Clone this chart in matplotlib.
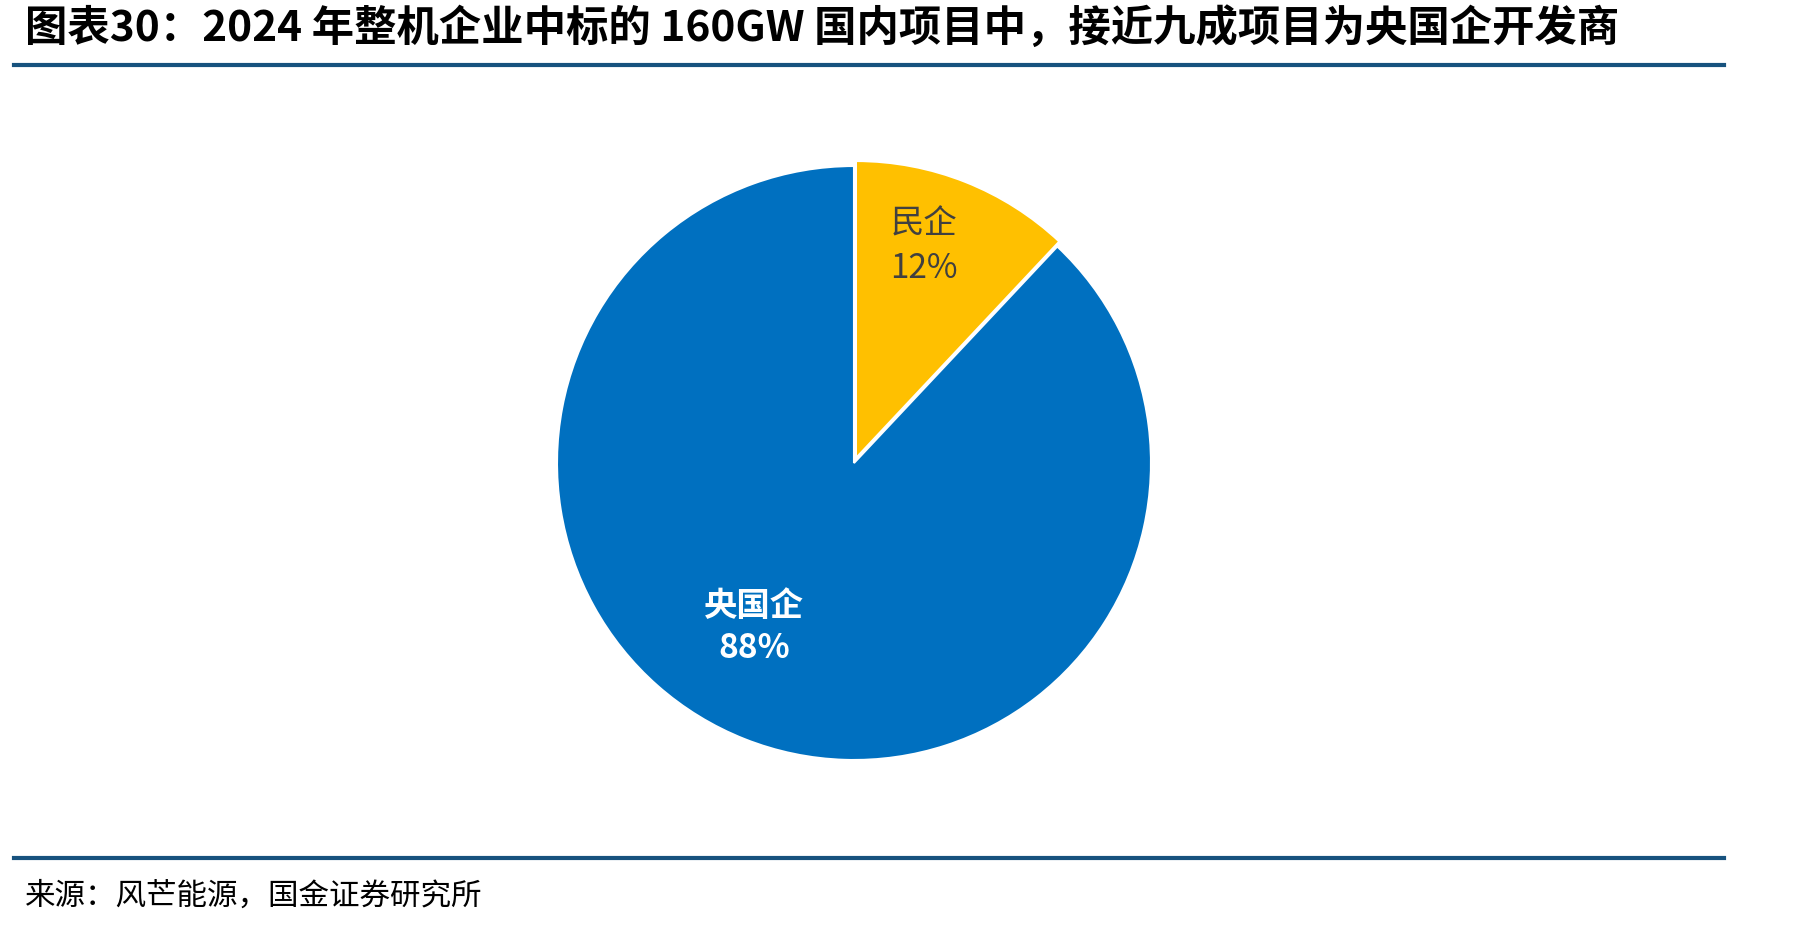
import matplotlib
matplotlib.use("Agg")
import matplotlib.pyplot as plt
import numpy as np

plt.rcParams['font.family'] = ['Noto Sans CJK SC', 'DejaVu Sans']

# Data
labels = ['民企', '央国企']
shares = [12, 88]
colors = ['#FFC000', '#0070C0']
explode = [0.018, 0]

title = '图表30：2024 年整机企业中标的 160GW 国内项目中，接近九成项目为央国企开发商'
source = '来源：风芒能源，国金证券研究所'

W, H = 1811, 928
fig = plt.figure(figsize=(W / 100, H / 100), dpi=100)

# Title and rules
fig.text(25 / W, 1 - 28 / H, title, fontsize=30.5, fontweight='bold', style='italic',
         va='center', ha='left', color='black')
line_color = '#17527E'
fig.add_artist(plt.Line2D([14 / W, 1724 / W], [1 - 66 / H, 1 - 66 / H], color=line_color, lw=3))
fig.add_artist(plt.Line2D([14 / W, 1724 / W], [1 - 859 / H, 1 - 859 / H], color=line_color, lw=3))
fig.text(25 / W, 1 - 896 / H, source, fontsize=22, va='center', ha='left', color='black')

# Pie
cx, cy, r = 854, 464, 297
ax = fig.add_axes([(cx - r) / W, (H - cy - r) / H, 2 * r / W, 2 * r / H])
wedges, _ = ax.pie(shares, colors=colors, startangle=90, counterclock=False,
                   explode=explode, radius=1,
                   wedgeprops=dict(edgecolor='white', linewidth=1.5))
for w in wedges:
    w.set_clip_on(False)
ax.set_xlim(-1, 1)
ax.set_ylim(-1, 1)
ax.set_aspect('equal')
ax.axis('off')

# Labels placed along each wedge
label_pos = [(0.77, 72.1), (0.645, 238.5)]
label_style = [dict(color='#404040', fontweight='normal'), dict(color='white', fontweight='bold')]
for lab, val, (rr, ang), st in zip(labels, shares, label_pos, label_style):
    x = rr * np.cos(np.radians(ang))
    y = rr * np.sin(np.radians(ang))
    ax.text(x, y, f'{lab}\n{val}%', ha='center', va='center', fontsize=24,
            linespacing=1.35, **st)

fig.savefig('out.png', dpi=100)
